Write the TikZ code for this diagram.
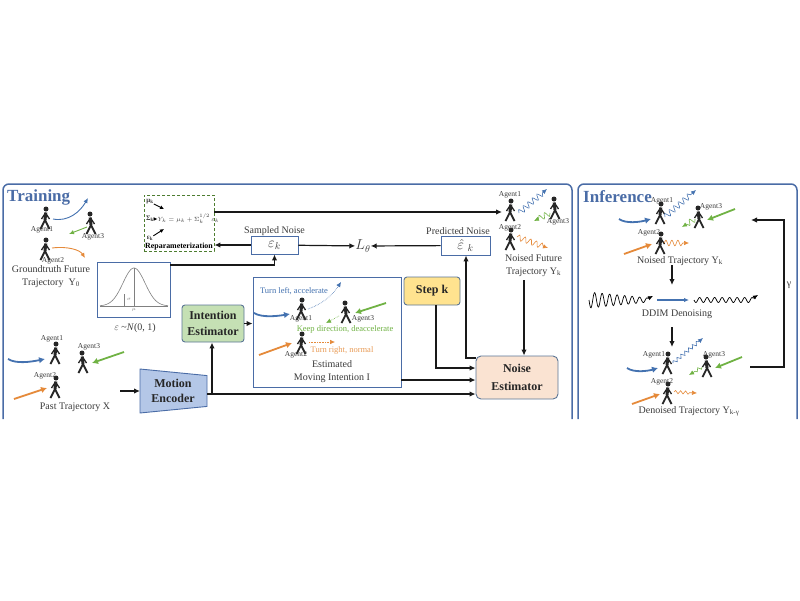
\documentclass[tikz,border=0pt]{standalone}
\usepackage{amsmath}
\usepackage{fontspec}
\setmainfont{Liberation Serif}
\usetikzlibrary{positioning,calc,arrows.meta,shapes.geometric,decorations.pathmorphing}
\definecolor{panelblue}{HTML}{4A6CA6}
\definecolor{agentblue}{HTML}{4472B0}
\definecolor{agentgreen}{HTML}{70B244}
\definecolor{agentorange}{HTML}{E58A3A}
\definecolor{textgray}{HTML}{3A3A3A}
\definecolor{blockborder}{HTML}{5B7595}
\definecolor{encoderfill}{HTML}{B4C7E7}
\definecolor{intentionfill}{HTML}{C5E0B4}
\definecolor{stepfill}{HTML}{FFE38F}
\definecolor{noisefill}{HTML}{FAE3D2}
\begin{document}
\begin{tikzpicture}[x=1pt,y=-1pt,font=\fontsize{10}{12}\selectfont,text=textgray,
        panel/.style={draw=panelblue,line width=1.5pt,rounded corners=6pt},
        title/.style={text=panelblue,font=\fontsize{17}{18}\selectfont\bfseries,inner sep=0pt},
        agent/.style={font=\fontsize{7.5}{9}\selectfont,inner sep=0pt},
        caption/.style={inner sep=0pt,align=center,text depth=0pt},
        bluebox/.style={draw=panelblue,line width=0.9pt,fill=white,inner sep=0pt},
        block/.style={draw=blockborder,line width=0.9pt,rounded corners=3pt,align=center,
            font=\fontsize{12}{16}\selectfont\bfseries,text=black!85,inner sep=0pt},
        flow/.style={-{Latex[length=6pt,width=5.5pt]},line width=1.2pt,black!90},
        small/.style={-{Latex[length=4pt,width=4pt]},line width=0.9pt,black},
        thin tip/.style={-{Latex[length=5pt,width=4.5pt]}},
        thick tip/.style={-{Latex[length=6pt,width=6.5pt]}},
        thickblue/.style={thick tip,line width=1.8pt,agentblue},
        thickgreen/.style={thick tip,line width=1.8pt,agentgreen},
        thickorange/.style={thick tip,line width=1.8pt,agentorange},
        wavy/.style={thin tip,line width=0.6pt,decorate,
            decoration={snake,amplitude=2.8pt,segment length=6pt,post length=5pt}},
        dots/.style={thin tip,line width=0.6pt,densely dotted},
        walker/.pic={
            \fill[black!85] (1,-9) circle (2.5);
            \draw[black!85,line width=3pt] (0.8,-5.5) -- (0,2);
            \draw[black!85,line width=1.3pt] (0.5,-5) -- (-3.5,1) (0.5,-5) -- (4.5,1);
            \draw[black!85,line width=1.8pt] (0,2) -- (-4.5,11) (0,2) -- (2,6) -- (4.5,11);
        }]
   \useasboundingbox (0,0) rectangle (800,600);

   % panels
   \draw[panel] (3,419) -- (3,184) -- (572,184) -- (572,419);
   \draw[panel] (578,419) -- (578,184) -- (797,184) -- (797,419);
   \node (training) [title,anchor=west] at (7,197) {Training};
   \node (inference) [title,anchor=west] at (583,197) {Inference};

   % groundtruth future trajectory
   \pic (gta) at (45,218) {walker};
   \pic (gtb) at (45,249) {walker};
   \pic[xscale=-1] (gtc) at (91,223) {walker};
   \node (gta label) [agent] at (42,229.5) {Agent1};
   \node (gtc label) [agent] at (93,237) {Agent3};
   \node (gtb label) [agent] at (53,260.5) {Agent2};
   \coordinate (gta start) at (53,219);
   \coordinate (gta end) at (88,198);
   \coordinate (gtb start) at (52,248);
   \coordinate (gtb end) at (85,258);
   \coordinate (gtc start) at (87,227);
   \coordinate (gtc end) at (69,234);
   \draw[thin tip,line width=0.9pt,agentblue] (gta start) .. controls (68,222) and (80,212) .. (gta end);
   \draw[thin tip,line width=0.9pt,agentorange] (gtb start) .. controls (68,246) and (80,250) .. (gtb end);
   \draw[thin tip,line width=0.9pt,agentgreen] (gtc start) -- (gtc end);
   \node (gt caption) [caption] at (51,275.5) {Groundtruth Future\\[1pt]Trajectory\ \ Y\textsubscript{0}};

   % reparameterization
   \node (repar) [draw=agentgreen!70!black,densely dashed,line width=0.9pt,minimum width=70pt,minimum height=56pt,inner sep=0pt] at (179,223) {};
   \node (mu) [agent,font=\fontsize{7}{8}\selectfont\bfseries] at (150,202) {μ\textsubscript{k}};
   \node (sigma) [agent,font=\fontsize{7}{8}\selectfont\bfseries] at (150,219) {Σ\textsubscript{k}};
   \node (eps) [agent,font=\fontsize{7}{8}\selectfont\bfseries] at (150,238) {ε\textsubscript{k}};
   \node (yk) [inner sep=0pt,font=\fontsize{5.6}{7}\selectfont] at (188.5,219) {$Y_k=\mu_k+\Sigma_k^{1/2}\,\varepsilon_k$};
   \node (repar label) [inner sep=0pt,text=black,font=\fontsize{7.9}{9}\selectfont\bfseries] at (179,246.5) {Reparameterization};
   \coordinate (yk nw) at (164,209);
   \coordinate (yk sw) at (164,229);
   \draw[small] (mu) -- (yk nw);
   \draw[small] (sigma) -- (yk.west);
   \draw[small] (eps) -- (yk sw);

   % noise nodes
   \node (sampled) [bluebox,font=\fontsize{14}{16}\selectfont,minimum width=47pt,minimum height=18pt] at (274.5,245) {$\varepsilon_k$};
   \node (sampled label) [caption,above=2pt of sampled] {Sampled Noise};
   \node (predicted) [bluebox,font=\fontsize{14}{16}\selectfont,minimum width=49pt,minimum height=19pt] at (465.5,245.5) {$\hat{\varepsilon}\ _k$};
   \node (predicted label) [caption] at (458,231) {Predicted Noise};
   \node (loss) [inner sep=0pt,font=\fontsize{14}{16}\selectfont] at (363,246) {$L_{\theta}$};
   \draw[flow] (sampled) -- (repar.east |- sampled);
   \draw[flow] (sampled) -- (loss);
   \draw[flow] (predicted) -- (loss);

   % gaussian
   \node (gauss) [bluebox,minimum width=73pt,minimum height=55pt] at (133.5,289.5) {};
   \draw[gray,line width=0.5pt] (100,306) -- (168,306);
   \draw[gray,line width=0.6pt,domain=100:168,samples=60,smooth] plot (\x,{306-38*exp(-((\x-134)/11)^2/2)});
   \draw[gray,line width=0.4pt] (134,268) -- (134,306) (124,294) -- (124,306);
   \node (sigma mark) [inner sep=0pt,font=\fontsize{4}{4}\selectfont,text=gray] at (129,299) {$\sigma$};
   \node (mu mark) [inner sep=0pt,font=\fontsize{4}{4}\selectfont,text=gray] at (134,310) {$\mu$};
   \node (gauss label) [caption] at (135,327) {$\varepsilon$ \textasciitilde\textit{N}(0, 1)};
   \draw[flow] ([yshift=24.5pt]gauss.east) -| (sampled.south);

   % past trajectory
   \pic (pa) at (55,353) {walker};
   \pic (pb) at (55,387) {walker};
   \pic[xscale=-1] (pc) at (83,362) {walker};
   \node (pa label) [agent] at (52,339) {Agent1};
   \node (pc label) [agent] at (89,347) {Agent3};
   \node (pb label) [agent] at (45,376) {Agent2};
   \coordinate (pa start) at (8,359);
   \coordinate (pa end) at (45,359);
   \coordinate (pb start) at (14,399);
   \coordinate (pb end) at (47,388);
   \coordinate (pc start) at (124,352);
   \coordinate (pc end) at (92,363);
   \draw[thickblue] (pa start) .. controls (16,364) and (30,362) .. (pa end);
   \draw[thickorange] (pb start) -- (pb end);
   \draw[thickgreen] (pc start) -- (pc end);
   \node (past caption) [caption] at (75,406) {Past Trajectory X};

   % encoder and estimators
   \node (encoder) [trapezium,trapezium stretches=true,shape border rotate=270,trapezium left angle=78,trapezium right angle=78,
        minimum width=44pt,minimum height=67pt,draw=panelblue,fill=encoderfill,line width=0.9pt] at (173.5,391) {};
   \node (encoder label) [inner sep=0pt,align=center,text=black!85,font=\fontsize{12}{15}\selectfont\bfseries] at (173,391) {Motion\\Encoder};
   \node (intention) [block,fill=intentionfill,minimum width=62pt,minimum height=37pt] at (213,323.5) {Intention\\Estimator};
   \node (moving) [bluebox,minimum width=148pt,minimum height=110pt] at (327,332) {};
   \node (stepk) [block,fill=stepfill,minimum width=56pt,minimum height=28pt] at (432,291) {Step k};
   \node (noise) [block,rounded corners=5pt,fill=noisefill,minimum width=82pt,minimum height=43pt] at (517,377.5) {Noise\\[2pt]Estimator};

   \coordinate (encoder in) at (120,391);
   \coordinate (branch) at (212,394);
   \draw[flow] (encoder in) -- (encoder.east -| 140,391);
   \draw[flow] (branch) -- (branch |- intention.south);
   \draw[flow] (intention) -- (moving.west |- intention);
   \draw[flow] ([yshift=-3pt]encoder.east) -- (noise.west |- branch);
   \draw[flow] (moving.east |- 0,380) -- (noise.west |- 0,380);
   \draw[flow] ([xshift=4pt]stepk.south) |- (noise.west |- 0,368);
   \draw[flow] (noise.west |- 0,358) -| ([xshift=0.5pt]predicted.south);

   % moving intention
   \node (left label) [caption,text=agentblue,font=\fontsize{8.5}{10}\selectfont] at (294,291) {Turn left, accelerate};
   \pic (ma) at (301,309) {walker};
   \pic (mb) at (301,343) {walker};
   \pic[xscale=-1] (mc) at (346,312) {walker};
   \node (ma label) [agent] at (301,318.5) {Agent1};
   \node (mc label) [agent] at (363,318.5) {Agent3};
   \node (mb label) [agent] at (296,355) {Agent2};
   \node (keep label) [caption,text=agentgreen,font=\fontsize{8.5}{10}\selectfont] at (345,329) {Keep direction, deaccelerate};
   \node (right label) [caption,text=agentorange!85!white,font=\fontsize{8.5}{10}\selectfont] at (342,350) {Turn right, normal};
   \node (moving caption) [caption] at (332,370.5) {Estimated\\[1pt]Moving Intention I};
   \coordinate (ma start) at (254,313);
   \coordinate (ma end) at (290,314);
   \coordinate (ma dot) at (308,309);
   \coordinate (ma goal) at (341,282);
   \coordinate (mc start) at (386,303);
   \coordinate (mc end) at (355,313);
   \coordinate (mc dot) at (339,316);
   \coordinate (mc goal) at (326,323);
   \coordinate (mb start) at (259,355);
   \coordinate (mb end) at (292,343);
   \coordinate (mb dot) at (309,342);
   \coordinate (mb goal) at (335,342);
   \draw[thickblue] (ma start) .. controls (262,318) and (278,316) .. (ma end);
   \draw[thickgreen] (mc start) -- (mc end);
   \draw[thickorange] (mb start) -- (mb end);
   \draw[dots,agentblue] (ma dot) .. controls (322,304) and (332,296) .. (ma goal);
   \draw[dots,agentgreen] (mc dot) -- (mc goal);
   \draw[dots,agentorange] (mb dot) -- (mb goal);

   % noised future trajectory
   \pic (na) at (510,210) {walker};
   \pic (nb) at (510,239) {walker};
   \pic[xscale=-1] (nc) at (555,208) {walker};
   \node (na label) [agent] at (510,195) {Agent1};
   \node (nc label) [agent] at (558,222) {Agent3};
   \node (nb label) [agent] at (510,228) {Agent2};
   \coordinate (na start) at (519,213);
   \coordinate (na end) at (547,189);
   \coordinate (nb start) at (517,237);
   \coordinate (nb end) at (548,248);
   \coordinate (nc start) at (550,213);
   \coordinate (nc end) at (534,221);
   \draw[wavy,agentblue] (na start) -- (na end);
   \draw[wavy,agentorange] (nb start) -- (nb end);
   \draw[wavy,agentgreen] (nc start) -- (nc end);
   \node (noised caption) [caption] at (533.5,264.5) {Noised Future\\[1pt]Trajectory Y\textsubscript{k}};
   \coordinate (noised in) at (502,212);
   \coordinate (noised out) at (524,280);
   \draw[flow] (repar.east |- noised in) -- (noised in);
   \draw[flow] (noised out) -- (noise.north -| noised out);

   % inference, noised
   \pic (ia) at (660,213) {walker};
   \pic (ib) at (660,243) {walker};
   \pic[xscale=-1] (ic) at (699,217) {walker};
   \node (ia label) [agent] at (662,201) {Agent1};
   \node (ic label) [agent] at (711,207) {Agent3};
   \node (ib label) [agent] at (649,233) {Agent2};
   \coordinate (ia past) at (619,219);
   \coordinate (ia now) at (651,219);
   \coordinate (ia start) at (665,217);
   \coordinate (ia end) at (696,190);
   \coordinate (ic past) at (735,209);
   \coordinate (ic now) at (707,220);
   \coordinate (ic start) at (695,219);
   \coordinate (ic end) at (682,227);
   \coordinate (ib past) at (624,254);
   \coordinate (ib now) at (652,244);
   \coordinate (ib start) at (664,243);
   \coordinate (ib end) at (689,243);
   \draw[thickblue] (ia past) .. controls (626,224) and (640,222) .. (ia now);
   \draw[thickgreen] (ic past) -- (ic now);
   \draw[thickorange] (ib past) -- (ib now);
   \draw[wavy,agentblue] (ia start) -- (ia end);
   \draw[wavy,agentgreen] (ic start) -- (ic end);
   \draw[wavy,agentorange] (ib start) -- (ib end);
   \node (inoised caption) [caption] at (680,260) {Noised Trajectory Y\textsubscript{k}};

   % ddim
   \node (ddim label) [caption] at (677,313) {DDIM Denoising};
   \draw[thin tip,line width=0.7pt,black] plot[domain=589:648,samples=120,smooth] (\x,{300+(8-(\x-589)*0.1)*sin((\x-589)*48)}) -- (653,296);
   \draw[thin tip,line width=0.7pt,black] plot[domain=694:753,samples=120,smooth] (\x,{300+2.5*sin((\x-694)*48)}) -- (758,295);
   \coordinate (ddim in) at (657,300);
   \coordinate (ddim out) at (689,300);
   \draw[thin tip,line width=1.1pt,agentblue] (ddim in) -- (ddim out);
   \coordinate (ddim top) at (672,265);
   \coordinate (ddim mid) at (672,285);
   \coordinate (ddim low) at (672,327);
   \coordinate (ddim end) at (672,347);
   \draw[flow] (ddim top) -- (ddim mid);
   \draw[flow] (ddim low) -- (ddim end);

   % inference, denoised
   \pic (da) at (667,363) {walker};
   \pic (db) at (667,393) {walker};
   \pic[xscale=-1] (dc) at (707,366) {walker};
   \node (da label) [agent] at (654,355) {Agent1};
   \node (dc label) [agent] at (714,355) {Agent3};
   \node (db label) [agent] at (662,382) {Agent2};
   \coordinate (da past) at (627,368);
   \coordinate (da now) at (658,368);
   \coordinate (da start) at (673,363);
   \coordinate (da end) at (703,338);
   \coordinate (dc past) at (742,357);
   \coordinate (dc now) at (715,368);
   \coordinate (dc start) at (702,367);
   \coordinate (dc end) at (689,375);
   \coordinate (db past) at (632,404);
   \coordinate (db now) at (660,394);
   \coordinate (db start) at (674,392);
   \coordinate (db end) at (697,393);
   \draw[thickblue] (da past) .. controls (634,373) and (648,371) .. (da now);
   \draw[thickgreen] (dc past) -- (dc now);
   \draw[thickorange] (db past) -- (db now);
   \draw[wavy,agentblue,decoration={amplitude=1.8pt,segment length=5pt}] (da start) -- (da end);
   \draw[wavy,agentgreen,decoration={amplitude=1.6pt,segment length=5pt}] (dc start) -- (dc end);
   \draw[wavy,agentorange,decoration={amplitude=1.6pt,segment length=5pt}] (db start) -- (db end);
   \node (denoised caption) [caption] at (689,410) {Denoised Trajectory Y\textsubscript{k-γ}};

   % gamma loop
   \coordinate (loop start) at (750,367);
   \coordinate (loop corner) at (784,220);
   \coordinate (loop end) at (751,220);
   \draw[flow] (loop start) -| (loop corner) -- (loop end);
   \node (gamma) [inner sep=0pt] at (789,285) {γ};
\end{tikzpicture}
\end{document}
